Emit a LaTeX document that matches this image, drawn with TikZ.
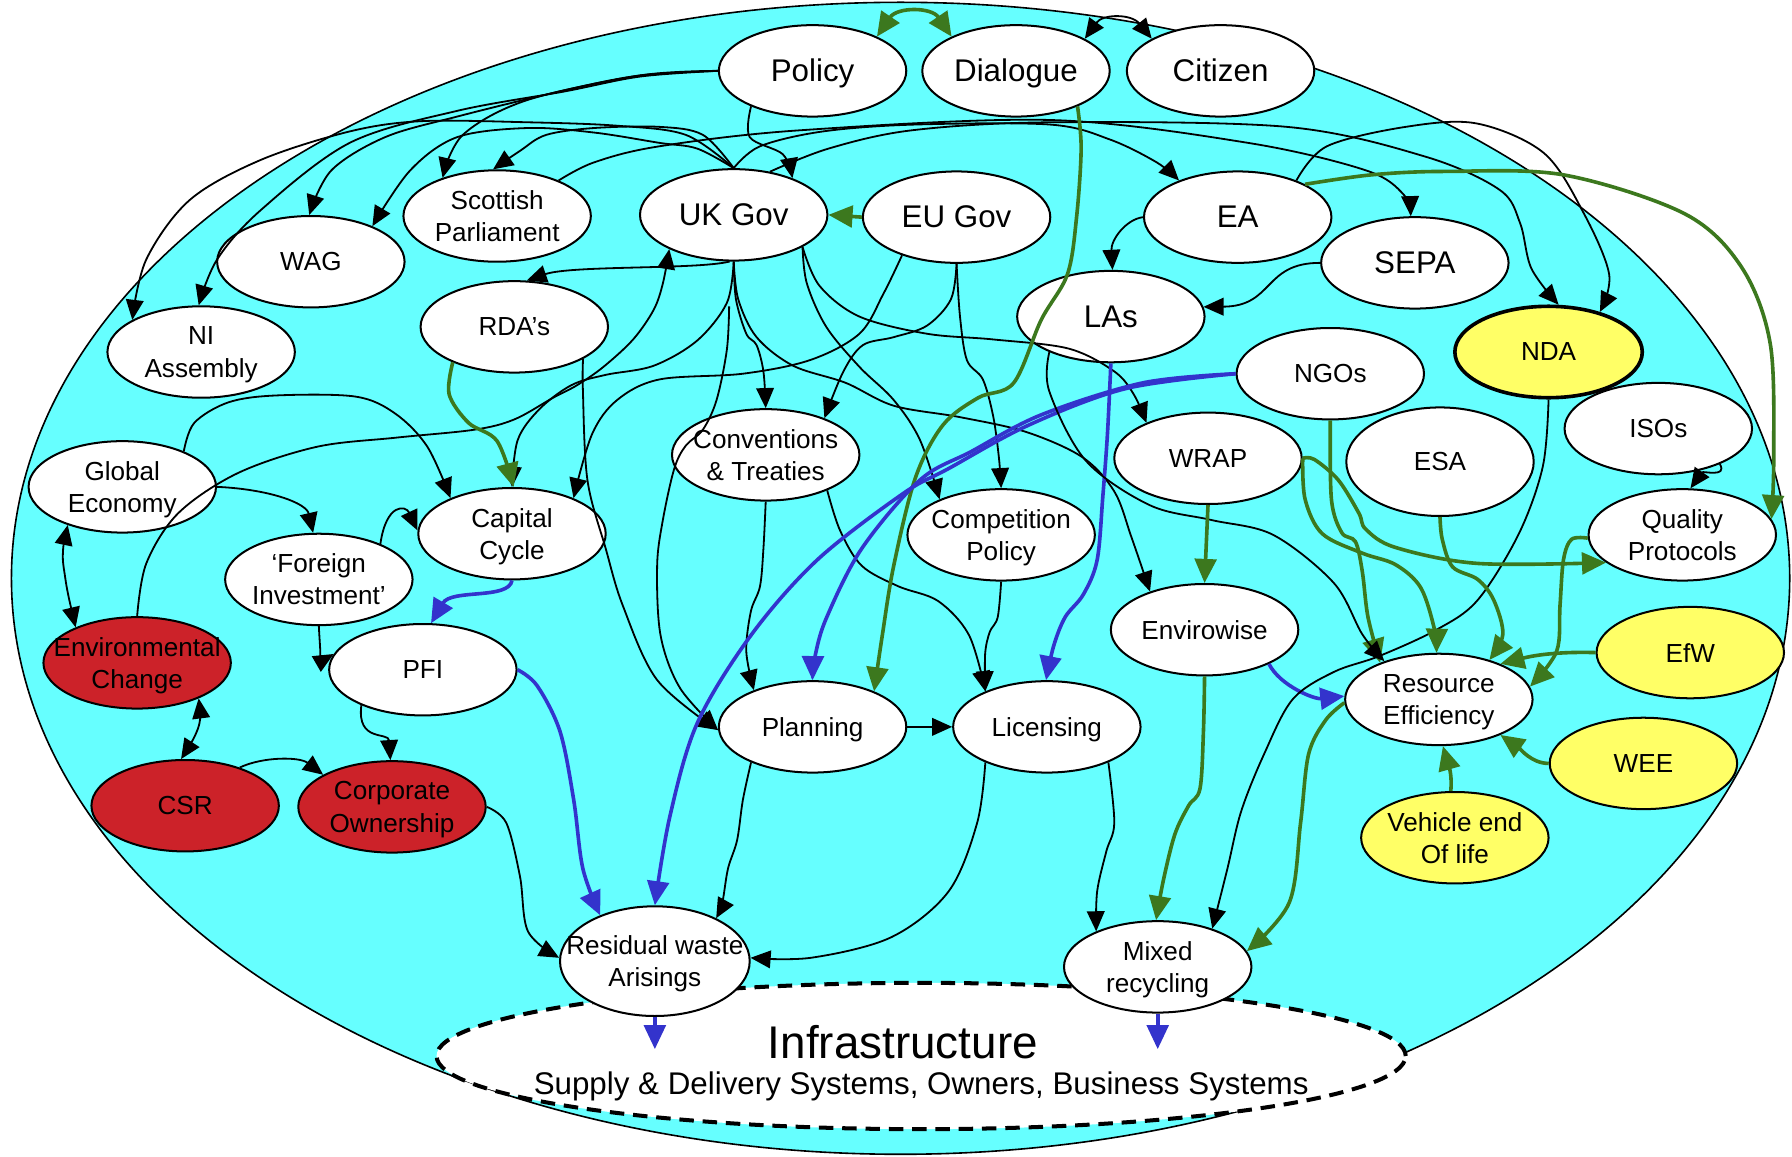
\documentclass[tikz,border=0pt]{standalone}
\usepackage{fontspec}
\setmainfont{Liberation Sans}
\usetikzlibrary{shapes.geometric,arrows.meta}
\definecolor{cyanbg}{RGB}{102,255,255}
\definecolor{grn}{RGB}{60,120,30}
\definecolor{blu}{RGB}{51,51,204}
\definecolor{redn}{RGB}{204,34,41}
\definecolor{yel}{RGB}{255,255,102}
\newcommand\fbig{\fontsize{7.8}{9}\selectfont}
\newcommand\fsmall{\fontsize{6.5}{8}\selectfont}
\begin{document}
\begin{tikzpicture}[x=0.1mm,y=-0.1mm,
 ell/.style={ellipse,draw,line width=0.5pt,fill=white,minimum width=16.4mm,minimum height=8mm,inner xsep=-6mm,inner ysep=-3mm,align=center,font=\fsmall,text depth=0pt},
 bigl/.style={ell,font=\fbig,text height=5.6pt,text depth=0.4pt},
 yelnode/.style={ell,fill=yel},
 rednode/.style={ell,fill=redn},
 blk/.style={line width=0.45pt,-{Triangle[length=5pt,width=4.4pt]}},
 blkb/.style={line width=0.45pt,{Triangle[length=5pt,width=4.4pt]}-{Triangle[length=5pt,width=4.4pt]}},
 grnl/.style={draw=grn,line width=0.9pt,-{Triangle[length=6pt,width=5.4pt]}},
 blul/.style={draw=blu,line width=0.9pt,-{Triangle[length=6pt,width=5.4pt]}},
 sm/.style={smooth,tension=0.55}
]
\useasboundingbox (0,0) rectangle (1568,1012);
\fill[white] (0,0) rectangle (1568,1012);
\draw[fill=cyanbg,line width=0.4pt] (788,506) ellipse [x radius=77.8mm, y radius=50.4mm];
\draw[fill=white,line width=1pt,dash pattern=on 3.6pt off 2.2pt] (806,924) ellipse [x radius=42.4mm, y radius=6.4mm];
\node[font=\fontsize{11.4}{13}\selectfont,anchor=base] (infratitle) at (790,926) {Infrastructure};
\node[font=\fontsize{7.8}{9}\selectfont,anchor=base] (infrasub) at (806,958) {Supply \& Delivery Systems, Owners, Business Systems};

% nodes
\node[bigl] (policy) at (711,62) {Policy};
\node[bigl] (dialogue) at (889,62) {Dialogue};
\node[bigl] (citizen) at (1068,62) {Citizen};
\node[bigl] (ukgov) at (642,188) {UK Gov};
\node[bigl] (eugov) at (837,190) {EU Gov};
\node[bigl] (ea) at (1083,190) {EA};
\node[bigl] (sepa) at (1238,230) {SEPA};
\node[bigl] (las) at (972,277) {LAs};
\node[ell] (scot) at (435,189) {Scottish\\Parliament};
\node[ell] (wag) at (272,229) {WAG};
\node[ell] (ni) at (176,308) {NI\\Assembly};
\node[ell] (rda) at (450,286) {RDA’s};
\node[ell] (glob) at (107,426) {Global\\Economy};
\node[ell] (cap) at (448,467) {Capital\\Cycle};
\node[ell] (forinv) at (279,507) {‘Foreign\\Investment’};
\node[ell] (conv) at (670,398) {Conventions\\\& Treaties};
\node[ell] (comp) at (876,468) {Competition\\Policy};
\node[ell] (ngos) at (1164,327) {NGOs};
\node[yelnode,line width=0.9pt] (nda) at (1355,308) {NDA};
\node[ell] (wrap) at (1057,401) {WRAP};
\node[ell,minimum height=9.5mm] (esa) at (1260,404) {ESA};
\node[ell] (isos) at (1451,375) {ISOs};
\node[ell] (qp) at (1472,468) {Quality\\Protocols};
\node[ell] (envw) at (1054,551) {Envirowise};
\node[yelnode] (efw) at (1479,571) {EfW};
\node[ell] (re) at (1259,612) {Resource\\Efficiency};
\node[yelnode] (wee) at (1438,668) {WEE};
\node[yelnode] (veh) at (1273,733) {Vehicle end\\Of life};
\node[rednode] (env) at (120,580) {Environmental\\Change};
\node[ell] (pfi) at (370,586) {PFI};
\node[ell] (plan) at (711,636) {Planning};
\node[ell] (lic) at (916,636) {Licensing};
\node[rednode] (csr) at (162,705) {CSR};
\node[rednode] (corp) at (343,706) {Corporate\\Ownership};
\node[ell,minimum width=16.6mm,minimum height=9.6mm] (res) at (573,841) {Residual waste\\Arisings};
\node[ell] (mix) at (1013,846) {Mixed\\recycling};
\coordinate (fs) at (638,268);
\coordinate (infraL) at (573,918);
\coordinate (infraR) at (1013,918);

% top links
\draw[draw=grn,line width=0.9pt,{Triangle[length=6pt,width=5.4pt]}-{Triangle[length=6pt,width=5.4pt]}] (policy.28) .. controls (785,6) and (815,6) .. (dialogue.152);
\draw[blkb] (dialogue.25) .. controls (965,12) and (990,12) .. (citizen.155);
\draw[grnl] (eugov.west) -- (ukgov.east);

% policy
\draw[blk] plot[sm] coordinates {(policy.west) (560,66) (460,88) (405,118) (scot.145)};
\draw[blk] plot[sm] coordinates {(policy.west) (560,66) (494,79) (400,102) (337,120) (290,149) (wag.92)};
\draw[blk] plot[sm] coordinates {(policy.west) (560,67) (494,80) (400,97) (306,125) (228,184) (190,227) (ni.93)};
\draw[blk] plot[sm] coordinates {(policy.210) (656,120) (685,135) (ukgov.32)};

% UK Gov top
\draw[blk] plot[sm] coordinates {(ukgov.north) (615,118) (577,111) (520,112) (478,118) (455,132) (scot.95)};
\draw[blk] plot[sm] coordinates {(ukgov.north) (610,130) (577,125) (520,116) (462,112) (400,120) (359,149) (wag.30)};
\draw[blk] plot[sm] coordinates {(ukgov.north) (600,118) (540,110) (462,107) (369,106) (306,115) (228,140) (166,175) (128,227) (ni.155)};
\draw[blk] plot[sm] coordinates {(ukgov.north) (665,128) (720,115) (800,109) (919,109) (971,122) (1012,142) (ea.148)};
\draw[blk] plot[sm] coordinates {(ukgov.50) (725,130) (798,114) (919,107) (1126,111) (1247,137) (1312,166) (1330,195) (1340,235) (nda.78)};
\draw[blk] plot[sm] coordinates {(scot.30) (520,142) (577,128) (700,114) (919,105) (1092,125) (1195,149) (1228,170) (sepa.95)};

% EA, SEPA
\draw[blk] plot[sm] coordinates {(ea.32) (1161,128) (1230,111) (1292,108) (1351,134) (1386,187) (1408,240) (nda.38)};
\draw[grnl] plot[sm] coordinates {(ea.26) (1200,153) (1265,150) (1368,153) (1474,187) (1524,234) (1549,301) (1552,400) (qp.10)};
\draw[blk] (ea.west) .. controls (985,192) and (972,210) .. (las.88);
\draw[blk] (sepa.west) .. controls (1105,230) and (1115,268) .. (las.6);

% UK Gov bottom
\draw[blk] (ukgov.265) .. controls (610,236) and (500,232) .. (rda.75);
\draw[blk] plot[sm] coordinates {(env.north) (128,493) (156,449) (208,414) (277,391) (346,383) (415,376) (450,367) (484,348) (505,337) (528,321) (554,297) (572,271) (580,248) (ukgov.208)};
\draw[blk] plot[sm] coordinates {(ukgov.south) (636,265) (610,298) (572,320) (530,328) (500,337) (472,358) (453,385) (cap.90)};
\draw[blk] plot[sm] coordinates {(ukgov.south) (644,262) (653,292) (662,302) (668,325) (conv.north)};
\draw[blk] plot[sm] coordinates {(ukgov.-25) (706,248) (723,286) (752,321) (782,350) (805,385) (comp.150)};
\draw[blk] plot[sm] coordinates {(ukgov.-25) (717,250) (752,277) (811,292) (869,297) (935,305) (975,325) (992,345) (wrap.150)};
\draw[blk] plot[sm] coordinates {(ukgov.south) (646,262) (662,295) (694,320) (740,335) (782,355) (840,365) (898,378) (947,400) (975,430) (990,470) (envw.145)};
\draw[blk] plot[sm] coordinates {(fs) (636,306) (627,350) (615,376) (600,390) (590,410) (580,455) (575,495) (578,556) (595,602) (plan.182)};

% EU Gov
\draw[blk] plot[sm] coordinates {(eugov.south) (832,262) (811,285) (782,295) (755,302) (738,325) (conv.32)};
\draw[blk] plot[sm] coordinates {(eugov.south) (840,277) (846,315) (860,332) (869,364) (874,400) (comp.north)};
\draw[blk] plot[sm] coordinates {(eugov.215) (773,257) (752,292) (709,315) (650,327) (577,332) (540,350) (518,380) (cap.30)};

% RDA, Global, capital cycle
\draw[blk] plot[sm] coordinates {(rda.-25) (510,340) (514,420) (530,480) (545,530) (575,595) (plan.182)};
\draw[grnl] plot[sm] coordinates {(rda.210) (393,345) (410,370) (435,386) (cap.88)};
\draw[blk] plot[sm] coordinates {(glob.30) (170,370) (200,352) (242,346) (311,347) (346,362) (374,391) (cap.150)};
\draw[blk] (glob.east) .. controls (235,428) and (268,440) .. (forinv.97);
\draw[blkb] plot[sm] coordinates {(glob.215) (55,485) (57,505) (60,522) (env.150)};
\draw[blkb] plot[sm] coordinates {(env.-30) (175,630) (170,645) (csr.95)};
\draw[blk] (csr.35) .. controls (230,662) and (262,662) .. (corp.155);
\draw[blk] (forinv.30) .. controls (338,440) and (355,442) .. (cap.178);
\draw[blk] (forinv.south) .. controls (280,570) and (282,578) .. (pfi.170);
\draw[blul] (cap.south) .. controls (445,525) and (395,515) .. (pfi.80);
\draw[blul] plot[sm] coordinates {(pfi.east) (470,600) (490,640) (502,700) (510,760) (res.140)};
\draw[blk] (pfi.210) .. controls (312,650) and (340,640) .. (corp.92);
\draw[blk] plot[sm] coordinates {(corp.east) (443,720) (455,767) (462,815) (res.178)};

% planning, licensing
\draw[blk] plot[sm] coordinates {(plan.210) (650,700) (645,735) (637,760) (632,790) (res.35)};
\draw[blk] plot[sm] coordinates {(lic.210) (855,720) (830,780) (780,820) (710,838) (res.2)};
\draw[blk] (plan.east) -- (lic.west);
\draw[blk] plot[sm] coordinates {(lic.-30) (975,720) (968,745) (960,780) (mix.150)};
\draw[blk] plot[sm] coordinates {(conv.south) (668,480) (665,513) (657,535) (653,570) (plan.148)};
\draw[blk] plot[sm] coordinates {(conv.-30) (735,464) (754,495) (786,513) (821,526) (848,556) (lic.150)};
\draw[blk] plot[sm] coordinates {(comp.south) (873,540) (866,553) (862,572) (lic.150)};
\draw[grnl] plot[sm] coordinates {(dialogue.-30) (946,130) (942,190) (934,240) (911,280) (887,335) (856,348) (825,372) (801,418) (782,495) (772,556) (plan.30)};
\draw[blul] plot[sm] coordinates {(ngos.west) (1000,335) (911,363) (850,395) (805,420) (754,480) (723,541) (713,575) (plan.90)};
\draw[blul] plot[sm] coordinates {(ngos.west) (985,340) (900,372) (830,410) (790,432) (715,490) (657,556) (610,633) (586,715) (res.90)};
\draw[blul] plot[sm] coordinates {(las.south) (969,380) (965,434) (960,490) (948,520) (932,540) (922,565) (lic.91)};

% right side
\draw[grnl] plot[sm] coordinates {(envw.south) (1053,640) (1050,690) (1040,705) (1028,730) (1018,770) (mix.92)};
\draw[blul] (envw.-28) .. controls (1120,600) and (1150,612) .. (re.178);
\draw[blk] plot[sm] coordinates {(nda.south) (1350,408) (1329,467) (1293,525) (1257,551) (1207,574) (1167,588) (1131,612) (1106,660) (1086,710) (1074,760) (mix.35)};
\draw[grnl] plot[sm] coordinates {(re.182) (1160,630) (1145,660) (1138,720) (1128,790) (mix.10)};
\draw[grnl] (efw.west) .. controls (1360,570) and (1340,574) .. (re.30);
\draw[grnl] (wee.west) .. controls (1340,668) and (1330,655) .. (re.-30);
\draw[grnl] (veh.95) .. controls (1271,675) and (1266,665) .. (re.-85);
\draw[grnl] plot[sm] coordinates {(ngos.south) (1165,437) (1174,466) (1186,474) (1192,500) (1197,540) (re.148)};
\draw[blk] plot[sm] coordinates {(las.210) (918,342) (950,403) (1006,442) (1060,455) (1114,468) (1167,510) (1192,555) (re.145)};
\draw[grnl] plot[sm] coordinates {(wrap.east) (1142,437) (1157,467) (1192,484) (1221,494) (1243,514) (1255,550) (re.93)};
\draw[grnl] plot[sm] coordinates {(wrap.east) (1150,402) (1171,420) (1189,449) (1195,463) (1221,479) (1293,493) (qp.200)};
\draw[grnl] (wrap.south) -- (envw.north);
\draw[grnl] plot[sm] coordinates {(esa.south) (1262,472) (1271,496) (1293,507) (1307,525) (1315,555) (re.38)};
\draw[grnl] plot[sm] coordinates {(qp.182) (1375,472) (1368,490) (1365,530) (1362,570) (re.8)};
\draw[blk] (isos.-30) .. controls (1512,418) and (1490,412) .. (qp.80);

% to infrastructure
\draw[blul] (res.south) -- (infraL);
\draw[blul] (mix.south) -- (infraR);
\end{tikzpicture}
\end{document}
